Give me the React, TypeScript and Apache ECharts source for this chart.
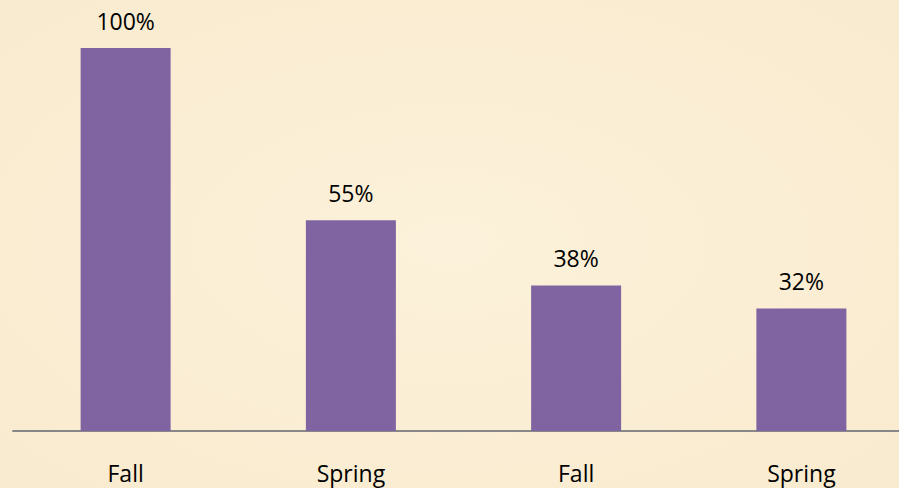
import React, { useEffect, useRef } from "react";
import * as echarts from "echarts";

const categories = ["Fall", "Spring", "Fall ", "Spring "];
const values = [100, 55, 38, 32];

export default function App() {
  const ref = useRef<HTMLDivElement>(null);
  useEffect(() => {
    if (!ref.current) return;
    const chart = echarts.init(ref.current, null, { renderer: "svg" });
    chart.setOption({
      animation: false,
      backgroundColor: {
        type: "radial",
        x: 0.5,
        y: 0.5,
        r: 0.8,
        colorStops: [
          { offset: 0, color: "#FCF1DA" },
          { offset: 1, color: "#F8EACD" },
        ],
      },
      grid: {
        left: 13,
        top: 48,
        width: 901,
        height: 383,
        containLabel: false,
        outerBoundsMode: "none",
      },
      xAxis: {
        type: "category",
        data: categories,
        axisLine: { show: true, lineStyle: { color: "#878787", width: 2 } },
        axisTick: { show: false },
        axisLabel: {
          margin: 30,
          fontSize: 23,
          color: "#000",
          fontFamily: "'Open Sans', sans-serif",
          formatter: (v: string) => v.trim(),
        },
      },
      yAxis: {
        type: "value",
        min: 0,
        max: 100,
        show: false,
        splitLine: { show: false },
      },
      series: [
        {
          type: "bar",
          data: values,
          barWidth: 90,
          itemStyle: { color: "#8064A2" },
          label: {
            show: true,
            position: "top",
            distance: 16,
            fontSize: 23,
            color: "#000",
            fontFamily: "'Open Sans', sans-serif",
            formatter: (p: any) => p.value + "%",
          },
        },
      ],
    });
    return () => chart.dispose();
  }, []);
  return (
    <div
      ref={ref}
      style={{ width: 899, height: 488, position: "absolute", left: 0, top: 0 }}
    />
  );
}
